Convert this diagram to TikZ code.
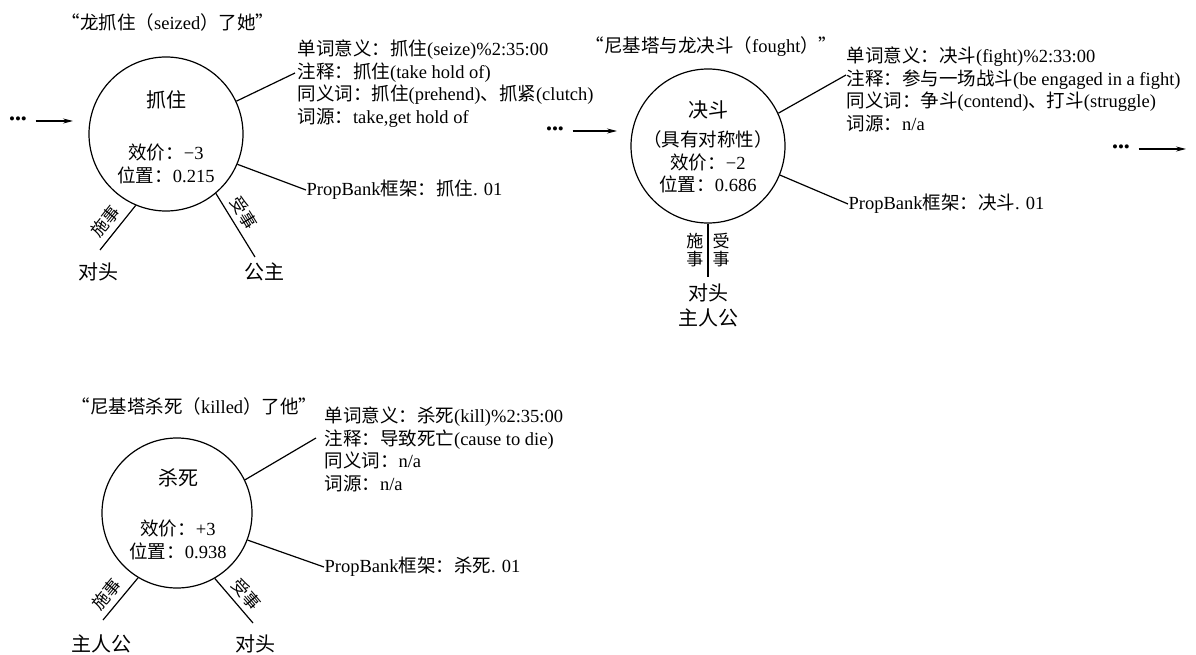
\documentclass[tikz,border=0pt]{standalone}
\usepackage{fontspec}
\setmainfont{Liberation Serif}
\newfontfamily\cjk{Noto Sans CJK SC}
\newcommand\zh[1]{{\cjk #1}}
\usetikzlibrary{arrows.meta}
\begin{document}
\begin{tikzpicture}[x=1pt,y=-1pt,line width=1.2pt,
  txt/.style={inner sep=0pt,font=\fontsize{18.5}{22.7}\selectfont},
  blk/.style={txt,align=left,anchor=north west},
  big/.style={inner sep=0pt,font=\fontsize{20}{25}\selectfont},
  lab/.style={inner sep=0pt,font=\fontsize{17}{18}\selectfont},
  verb/.style={draw,circle,minimum size=154pt,inner sep=0pt},
  arr/.style={-{Stealth[length=10pt,width=5pt]}},
  dots/.style={inner sep=0pt,font=\fontsize{17}{17}\selectfont}]
\fill[white] (0,0) rectangle (1196,655);
\useasboundingbox (0,0) rectangle (1196,655);

% ---------- frame 1 ----------
\node[txt,anchor=west] (t1) at (61,22) {\zh{“龙抓住（}seized\zh{）了她”}};
\node[verb] (c1) at (166,134) {};
\node[big] (c1n) at (166,100) {\zh{抓住}};
\node[txt,align=center] (c1v) at (166,164) {\zh{效价：}−3\\\zh{位置：}0.215};
\node[blk] (c1b) at (297,39) {\zh{单词意义：抓住}(seize)\%2:35:00\\
\zh{注释：抓住}(take hold of)\\
\zh{同义词：抓住}(prehend)\zh{、抓紧}(clutch)\\
\zh{词源：}take,get hold of};
\coordinate (c1u) at (295,73);
\draw (c1.25) -- (c1u);
\node[txt,anchor=west] (c1p) at (306,190) {PropBank\zh{框架：抓住}. 01};
\draw (c1.-23) -- (c1p.west);
\coordinate (c1ae) at (100,250);
\coordinate (c1pe) at (255,257);
\draw (c1.-113) -- node[sloped,above=5pt,pos=.55,lab] {\zh{施事}} (c1ae);
\draw (c1.-50) -- node[sloped,above=5pt,pos=.42,lab] {\zh{受事}} (c1pe);
\node[big] (c1x) at (98,272) {\zh{对头}};
\node[big] (c1y) at (264,272) {\zh{公主}};
\node[dots] (d1) at (18,121) {•••};
\coordinate (d1e) at (73,121);
\draw[arr,shorten <=8pt] (d1) -- (d1e);

% ---------- frame 2 ----------
\node[txt,anchor=west] (t2) at (585,47) {\zh{“尼基塔与龙决斗（}fought\zh{）”}};
\node[verb] (c2) at (708,146) {};
\node[big] (c2n) at (708,110) {\zh{决斗}};
\node[txt,align=center] (c2v) at (708,162) {\zh{（具有对称性）}\\\zh{效价：}−2\\\zh{位置：}0.686};
\node[blk] (c2b) at (846,46) {\zh{单词意义：决斗}(fight)\%2:33:00\\
\zh{注释：参与一场战斗}(be engaged in a fight)\\
\zh{同义词：争斗}(contend)\zh{、打斗}(struggle)\\
\zh{词源：}n/a};
\coordinate (c2u) at (846,75);
\draw (c2.25) -- (c2u);
\node[txt,anchor=west] (c2p) at (848,204) {PropBank\zh{框架：决斗}. 01};
\draw (c2.-22) -- (c2p.west);
\coordinate (c2e) at (708,277);
\draw (c2.south) -- node[pos=.5,left=4pt,lab,align=center] {\zh{施}\\\zh{事}}
                    node[pos=.5,right=4pt,lab,align=center] {\zh{受}\\\zh{事}} (c2e);
\node[big,align=center] (c2x) at (708,305) {\zh{对头}\\\zh{主人公}};
\node[dots] (d2) at (555,131) {•••};
\coordinate (d2e) at (617,131);
\draw[arr,shorten <=8pt] (d2) -- (d2e);
\node[dots] (d3) at (1121,149) {•••};
\coordinate (d3e) at (1186,149);
\draw[arr,shorten <=8pt] (d3) -- (d3e);

% ---------- frame 3 ----------
\node[txt,anchor=west] (t3) at (71,406) {\zh{“尼基塔杀死（}killed\zh{）了他”}};
\node[verb,minimum size=150pt] (c3) at (177,513) {};
\node[big] (c3n) at (178,478) {\zh{杀死}};
\node[txt,align=center] (c3v) at (178,540) {\zh{效价：}+3\\\zh{位置：}0.938};
\node[blk] (c3b) at (324,406) {\zh{单词意义：杀死}(kill)\%2:35:00\\
\zh{注释：导致死亡}(cause to die)\\
\zh{同义词：}n/a\\
\zh{词源：}n/a};
\coordinate (c3u) at (316,438);
\draw (c3.26) -- (c3u);
\node[txt,anchor=west] (c3p) at (324,567) {PropBank\zh{框架：杀死}. 01};
\draw (c3.-21) -- (c3p.west);
\coordinate (c3ae) at (103,620);
\coordinate (c3pe) at (253,623);
\draw (c3.-121) -- node[sloped,above=5pt,pos=.6,lab] {\zh{施事}} (c3ae);
\draw (c3.-60) -- node[sloped,above=5pt,pos=.55,lab] {\zh{受事}} (c3pe);
\node[big] (c3x) at (101,644) {\zh{主人公}};
\node[big] (c3y) at (255,644) {\zh{对头}};
\end{tikzpicture}
\end{document}
